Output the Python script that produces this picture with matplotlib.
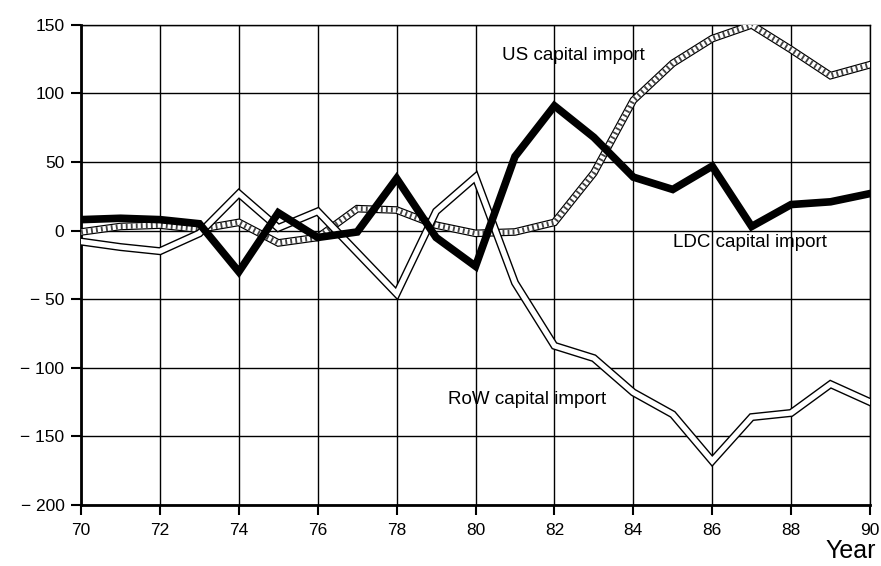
import numpy as np
import matplotlib.pyplot as plt

plt.rcParams['font.family'] = ['Liberation Sans', 'DejaVu Sans']

years = list(range(70, 91))
ldc = [8, 9, 8, 5, -30, 13, -5, -1, 38, -5, -26, 54, 91, 68, 39, 30, 47, 3, 19, 21, 27]
us = [-1, 3, 4, 1, 6, -9, -5, 16, 15, 4, -2, -1, 6, 42, 95, 122, 140, 150, 132, 113, 121]
row = [-8, -12, -15, -2, 27, 2, 14, -16, -46, 14, 39, -38, -84, -93, -118, -134, -168, -136, -133, -112, -125]

yticks = [150, 100, 50, 0, -50, -100, -150, -200]
ytick_labels = [str(v) if v >= 0 else "\u2212 " + str(-v) for v in yticks]
xticks = list(range(70, 91, 2))


def main():
    fig = plt.figure(figsize=(8.81, 5.66), dpi=100)
    ax = fig.add_axes([0.092, 0.108, 0.8955, 0.848])

    # US: hatched band
    ax.plot(years, us, color="black", lw=5.5, solid_joinstyle="miter", zorder=3)
    ax.plot(years, us, color="white", lw=3.8, solid_joinstyle="miter", zorder=3.1)
    ax.plot(years, us, color="#444444", lw=3.8, dashes=(0.35, 0.6), zorder=3.2)

    # RoW: white line with black outline
    ax.plot(years, row, color="black", lw=5.8, solid_joinstyle="miter", zorder=4)
    ax.plot(years, row, color="white", lw=3.8, solid_joinstyle="miter", zorder=4.1)

    # LDC: thick black
    ax.plot(years, ldc, color="black", lw=5.5, solid_joinstyle="miter", zorder=5)

    ax.set_xlim(70, 90)
    ax.set_ylim(-200, 150)
    ax.set_xticks(xticks)
    ax.set_yticks(yticks)
    ax.set_yticklabels(ytick_labels)
    ax.grid(True, color="black", lw=1.0)
    ax.set_axisbelow(True)

    for s in ["top", "right"]:
        ax.spines[s].set_linewidth(1.0)
    for s in ["left", "bottom"]:
        ax.spines[s].set_linewidth(2.0)
    ax.tick_params(axis="both", direction="out", length=7, width=1.5,
                   labelsize=12.5, colors="black")
    ax.tick_params(axis="x", pad=6)
    ax.tick_params(axis="y", pad=5)

    ax.text(82.47, 128, "US capital import", fontsize=13.5, ha="center", va="center", zorder=6)
    ax.text(86.96, -9, "LDC capital import", fontsize=13.5, ha="center", va="center", zorder=6)
    ax.text(81.3, -123, "RoW capital import", fontsize=13.5, ha="center", va="center", zorder=6)

    fig.text(0.966, 0.006, "Year", fontsize=18, ha="center", va="bottom")

    fig.savefig("out.png", dpi=100)


if __name__ == "__main__":
    main()
